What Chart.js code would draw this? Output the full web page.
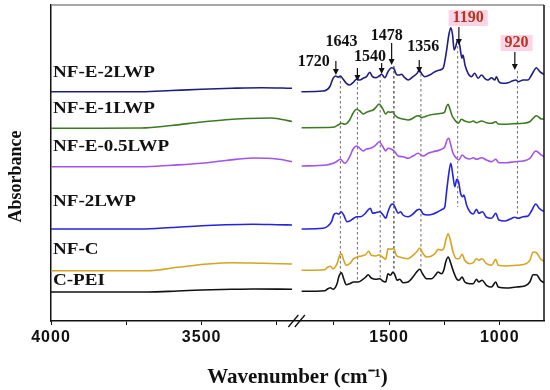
<!DOCTYPE html>
<html>
<head>
<meta charset="utf-8">
<script src="https://cdn.jsdelivr.net/npm/chart.js@4.4.1/dist/chart.umd.min.js"></script>
<style>
html,body{margin:0;padding:0;background:#fff;}
#wrap{width:550px;height:390px;}
</style>
</head>
<body>
<div id="wrap"><canvas id="c" width="550" height="390"></canvas></div>
<script>
// ---------- DATA ----------
const sampleNames = ['NF-E-2LWP','NF-E-1LWP','NF-E-0.5LWP','NF-2LWP','NF-C','C-PEI'];

const wn_NFE2LWP = [4000,3850,3700,3600,3500,3400,3300,3200,
 1896,1798,1768,1753,1741,1730,1720,1708,1693,1678,1663,1647,1632,1617,1602,1587,1575,1560,1545,1534,1519,1505,1489,1477,1467,1455,1444,1429,1414,1392,1373,1364,1354,1339,1316,1293,1271,1256,1241,1230,1221,1213,1206,1199,1190,1181,1171,1166,1157,1143,1128,1113,1098,1082,1068,1053,1037,1022,1015,1004,985,962,940,927,917,894,872,856,834,819,801];
const abs_NFE2LWP = [229.3,229.3,229.3,230.5,231.7,232.7,233.3,232.7,
 229.3,230,234.3,242.7,245,243.7,245,242,237.7,236,238.3,241.7,241,242.7,244.3,248.7,244.3,243.3,245,246.7,243.3,249.3,253.3,252,246.7,246,246.7,243.3,241,244.3,247.7,251,247.7,244.3,246,249.3,251,252.7,269.3,286,293.3,286,271,274.3,281,276,262.7,266,256,247.7,244.3,247.7,242.7,246,242.7,241,243.3,241,244.3,239.3,237.7,238.3,240.3,241,239.3,241,241,246,253.3,249.3,246.7];

const wn_NFE1LWP = [4000,3850,3700,3600,3500,3420,3350,3270,3200,
 1895,1753,1730,1715,1700,1678,1663,1647,1632,1617,1602,1587,1572,1557,1545,1530,1515,1505,1494,1485,1474,1459,1437,1414,1392,1376,1364,1354,1339,1316,1286,1263,1248,1241,1233,1226,1215,1203,1188,1173,1158,1135,1120,1105,1082,1060,1037,1018,1007,977,940,894,864,834,811,800];
const abs_NFE1LWP = [192.7,192.8,193,195.5,199,201.3,202.5,203,199.5,
 193.3,193.7,196,197.7,196.7,201,207.7,211.7,210,207,208.7,210,211,214.3,217,212.7,207,209.3,208.7,209.3,206,203.3,202,201,202.7,205,205.3,203.3,204.3,206,207,207.7,209.3,214.3,216.7,212.7,205.3,201,197.7,201.7,200,198.7,200,198.3,200,198.3,197.7,199.3,197,196.7,197.3,197.7,199.3,205.3,202,202];

const wn_NFE05LWP = [4000,3850,3700,3600,3500,3420,3330,3250,3200,
 1895,1783,1753,1738,1720,1700,1678,1663,1647,1632,1617,1602,1584,1569,1557,1545,1530,1515,1505,1489,1474,1459,1437,1414,1392,1369,1346,1324,1301,1271,1248,1238,1230,1221,1211,1195,1185,1170,1155,1135,1120,1105,1082,1060,1037,1018,1004,970,932,894,864,837,816,800];
const abs_NFE05LWP = [154.3,154.3,154.3,155.8,157.7,160.5,163,162,159.3,
 155,156,157.7,159.3,161.7,157.7,164.3,171.7,175,172.7,170,172,172.7,174.3,176.7,179.3,175,170,172.7,171.7,169.3,165,164.3,162.7,165,167.7,165,167.7,169.3,171,174.3,181,182.7,176,167.7,162.7,161,166,163.3,162,163.3,161.7,163.3,161,159.3,161.7,158.3,158.3,159.3,160,162.7,170,166.7,164.3];

const wn_NF2LWP = [4000,3850,3700,3600,3500,3420,3330,3250,3200,
 1895,1798,1776,1760,1750,1738,1726,1717,1705,1690,1675,1660,1645,1629,1610,1595,1584,1575,1560,1542,1527,1515,1505,1492,1482,1471,1459,1448,1437,1414,1392,1373,1361,1346,1324,1301,1279,1259,1248,1241,1230,1221,1212,1203,1194,1186,1177,1168,1162,1150,1135,1120,1105,1095,1078,1060,1037,1018,1004,977,955,932,917,894,872,856,837,822,800];
const abs_NF2LWP = [92,92,92,93.5,95.3,96.2,96.7,96.3,96,
 92,92.7,95,99.3,106,107.7,107,109.3,106,99.3,100.3,102.7,104.3,104.3,107,111,112.7,107.7,108.3,109.3,106,102.7,109.3,116,117,112.7,107.7,109.3,106,104.3,107,111,111.7,107,106,107,109.3,111.7,114.3,127.7,147.7,157.7,146,134.3,141.7,139.3,127.7,124.3,126,116,109.3,107,111.7,107.7,109.3,103.7,102.7,107.7,101,100,101.7,103.7,102.7,104.3,105,110.3,117,112.7,109.3];

const wn_NFC = [4000,3850,3680,3580,3480,3400,3300,3200,
 1895,1791,1776,1765,1753,1735,1723,1715,1705,1693,1678,1660,1645,1625,1607,1592,1580,1560,1545,1530,1515,1505,1494,1485,1477,1467,1452,1437,1414,1392,1373,1361,1349,1331,1308,1289,1279,1263,1253,1244,1233,1223,1211,1195,1184,1170,1158,1135,1120,1105,1095,1080,1060,1037,1018,1007,970,925,887,864,849,834,816,800];
const abs_NFC = [50.3,50.3,50.3,53.7,57,58.3,57.7,57,
 50.7,51.3,54,54.7,52.3,57.3,65.7,67.3,60.7,55.7,57.3,62.3,64,65,66.3,69.7,65.7,65,66.3,64,61.7,72.3,71.7,72.3,71.7,65.7,64,63,62.3,65.7,69.7,73,68.3,64,65,68.3,71.7,70.7,72.3,80.7,87.3,80.7,69,62.3,62.3,66.7,60.7,57.3,58.3,62.3,60.7,62.3,57.3,55.7,61.7,55.7,55,55.7,56.7,60.7,69,68.3,62.3,59.7];

const wn_CPEI = [4000,3850,3680,3580,3500,3400,3330,3200,
 1895,1791,1776,1765,1753,1735,1726,1715,1705,1693,1678,1660,1640,1620,1605,1595,1580,1560,1542,1527,1515,1505,1494,1482,1473,1464,1452,1437,1414,1392,1373,1361,1349,1331,1308,1289,1279,1263,1253,1244,1233,1223,1211,1195,1184,1170,1158,1135,1120,1105,1095,1080,1060,1037,1018,1007,970,925,887,864,849,834,816,800];
const abs_CPEI = [29,29,29,30,31,31.7,32,31.7,
 29.7,30.3,32.3,33.3,31.7,37.3,45,48.3,42.3,36.3,37.3,39,39,41.3,44,46.3,43,41.7,42.3,39.7,39,47.3,45.7,49,45.7,40.7,41.7,38.3,39,44,49.7,51.7,47.3,42.3,42.3,46.3,49,47.3,50.7,59,64,59,50.7,42.3,40.7,44,39,37.3,37.3,41.7,39,40.7,35.7,34,39,34,33,34,35,39,46.3,46.3,40.7,38.3];

const tickWn = [4000,3750,3500,3250,1750,1500,1250,1000];
const tickLabels = ['4000','','3500','','','1500','','1000'];

const peakText = ['1720','1643','1540','1478','1356','1190','920'];
const peakWn = [1720,1643,1540,1478,1356,1190,920];

// ---------- STYLE / LAYOUT ----------
const lineColors = ['#1e1e82','#3e7a24','#a452ec','#2424dc','#d6a421','#111111'];
const sampleLabelV = [248,212,174,119,71,40];   // label heights in axis units
const peakStyle = [
  {dx:-26.5, adx:-4.5, lv:259, top:260, tip:246, end:48,  red:false, dark:false},
  {dx:-15.8, adx:0,    lv:279, top:253, tip:240, end:40,  red:false, dark:false},
  {dx:-10.3, adx:1.4,  lv:264, top:258, tip:247, end:42,  red:false, dark:false},
  {dx:-7.3,  adx:-2.3, lv:285, top:278, tip:256, end:51,  red:false, dark:true},
  {dx:2.3,   adx:-1.7, lv:274, top:261, tip:248, end:51,  red:false, dark:false},
  {dx:10.5,  adx:1.2,  lv:303, top:294, tip:276, end:114, red:true,  dark:false},
  {dx:-0.9,  adx:-2.6, lv:278, top:269, tip:251, end:106, red:true,  dark:false}
];

// broken axis: 4000-3200 on the left part, 1900-800 compressed on the right part
const toU = w => w >= 2500 ? 4000 - w : 1122 + (1500 - w) * 0.7346;

function series(wn, ab) {
  const pts = [];
  const n = Math.min(wn.length, ab.length);
  for (let i = 0; i < n; i++) {
    if (i > 0 && wn[i-1] >= 2500 && wn[i] < 2500) {
      pts.push({x: (toU(wn[i-1]) + toU(wn[i])) / 2, y: null});
    }
    pts.push({x: toU(wn[i]), y: ab[i]});
  }
  return pts;
}

const allWn = [wn_NFE2LWP, wn_NFE1LWP, wn_NFE05LWP, wn_NF2LWP, wn_NFC, wn_CPEI];
const allAbs = [abs_NFE2LWP, abs_NFE1LWP, abs_NFE05LWP, abs_NF2LWP, abs_NFC, abs_CPEI];

const datasets = sampleNames.map((name, i) => ({
  label: name,
  data: series(allWn[i], allAbs[i]),
  borderColor: lineColors[i],
  borderWidth: 1.6,
  pointRadius: 0,
  spanGaps: false,
  cubicInterpolationMode: 'monotone',
  fill: false
}));

const SERIF = "'Liberation Serif','Times New Roman',serif";
const SANS = "'Liberation Sans',Arial,sans-serif";

const decorPlugin = {
  id: 'decor',
  beforeDatasetsDraw(chart) {
    const {ctx, scales: {x, y}} = chart;
    ctx.save();
    peakWn.forEach((w, i) => {
      const s = peakStyle[i];
      const px = x.getPixelForValue(toU(w));
      ctx.beginPath();
      ctx.setLineDash([2.5, 2.5]);
      ctx.lineWidth = 1;
      ctx.strokeStyle = s.dark ? '#111' : '#6a6a6a';
      ctx.moveTo(px, y.getPixelForValue(s.tip) + 1);
      ctx.lineTo(px, y.getPixelForValue(s.end));
      ctx.stroke();
    });
    ctx.restore();
  },
  afterDatasetsDraw(chart) {
    const {ctx, scales: {x, y}, chartArea} = chart;
    ctx.save();
    // peak arrows & labels
    peakWn.forEach((w, i) => {
      const s = peakStyle[i];
      const px = x.getPixelForValue(toU(w));
      const ax = px + s.adx;
      const yTop = y.getPixelForValue(s.top);
      const yTip = y.getPixelForValue(s.tip);
      ctx.setLineDash([]);
      ctx.strokeStyle = '#111';
      ctx.fillStyle = '#111';
      ctx.lineWidth = 1.2;
      ctx.beginPath();
      ctx.moveTo(ax, yTop);
      ctx.lineTo(ax, yTip - 5);
      ctx.stroke();
      ctx.beginPath();
      ctx.moveTo(ax - 3, yTip - 6);
      ctx.lineTo(ax + 3, yTip - 6);
      ctx.lineTo(ax, yTip);
      ctx.closePath();
      ctx.fill();
      // label
      ctx.font = 'bold 16px ' + SERIF;
      ctx.textAlign = 'center';
      ctx.textBaseline = 'middle';
      const lx = px + s.dx;
      const ly = y.getPixelForValue(s.lv);
      if (s.red) {
        const tw = ctx.measureText(peakText[i]).width;
        ctx.fillStyle = '#fcd4e7';
        ctx.fillRect(lx - tw / 2 - 4, ly - 8, tw + 8, 16);
        ctx.fillStyle = '#b3341f';
      } else {
        ctx.fillStyle = '#111';
      }
      ctx.fillText(peakText[i], lx, ly);
    });
    // sample labels
    ctx.font = 'bold 16px ' + SERIF;
    ctx.textAlign = 'left';
    ctx.textBaseline = 'middle';
    ctx.fillStyle = '#111';
    sampleNames.forEach((name, i) => {
      ctx.save();
      ctx.translate(chartArea.left + 2, y.getPixelForValue(sampleLabelV[i]));
      ctx.scale(1.19, 1);
      ctx.fillText(name, 0, 0);
      ctx.restore();
    });
    // axis break marks
    const bx = (x.getPixelForValue(toU(3200)) + x.getPixelForValue(toU(1895))) / 2;
    const by = chartArea.bottom;
    ctx.strokeStyle = '#111';
    ctx.lineWidth = 1.3;
    ctx.beginPath();
    ctx.moveTo(bx - 8.5, by + 6); ctx.lineTo(bx + 1.5, by - 6);
    ctx.moveTo(bx - 2, by + 6); ctx.lineTo(bx + 8, by - 6);
    ctx.stroke();
    // frame: top and right
    ctx.lineWidth = 1.5;
    ctx.strokeStyle = '#8a8a8a';
    ctx.beginPath();
    ctx.moveTo(chartArea.left, chartArea.top);
    ctx.lineTo(chartArea.right, chartArea.top);
    ctx.stroke();
    ctx.strokeStyle = '#111';
    ctx.beginPath();
    ctx.moveTo(chartArea.right, chartArea.top);
    ctx.lineTo(chartArea.right, chartArea.bottom);
    ctx.stroke();
    ctx.restore();
    // wider text for x axis labels and title drawn afterwards
    ctx.letterSpacing = '1px';
  },
  afterDraw(chart) {
    chart.ctx.letterSpacing = '0px';
  }
};

new Chart(document.getElementById('c'), {
  type: 'line',
  data: {datasets},
  options: {
    responsive: false,
    devicePixelRatio: 1,
    animation: false,
    events: [],
    layout: {padding: {top: 5, right: 6, left: 0, bottom: 0}},
    plugins: {legend: {display: false}, tooltip: {enabled: false}},
    scales: {
      x: {
        type: 'linear',
        position: 'bottom',
        min: 0,
        max: toU(800),
        afterFit(scale) { scale.height = 69; },
        afterBuildTicks(scale) { scale.ticks = tickWn.map(w => ({value: toU(w)})); },
        ticks: {
          z: 1,
          autoSkip: false,
          maxRotation: 0,
          padding: 3,
          color: '#111',
          font: {family: SANS, size: 16, weight: 'bold'},
          callback: (v, i) => tickLabels[i]
        },
        grid: {display: true, drawOnChartArea: false, drawTicks: true, tickLength: 4, color: '#111', lineWidth: 1},
        border: {display: true, color: '#111', width: 1.5},
        title: {
          display: true,
          text: 'Wavenumber (cm\u207B\u00B9)',
          color: '#111',
          font: {family: SERIF, size: 21, weight: 'bold'},
          padding: {top: 0, bottom: 0}
        }
      },
      y: {
        type: 'linear',
        min: 0,
        max: 316,
        afterFit(scale) { scale.width = 51; },
        ticks: {display: false},
        grid: {display: false},
        border: {display: true, color: '#111', width: 1.5},
        title: {
          display: true,
          text: 'Absorbance      ',
          color: '#111',
          font: {family: SERIF, size: 18, weight: 'bold'},
          padding: {top: 6, bottom: 0}
        }
      }
    }
  },
  plugins: [decorPlugin]
});
</script>
</body>
</html>
